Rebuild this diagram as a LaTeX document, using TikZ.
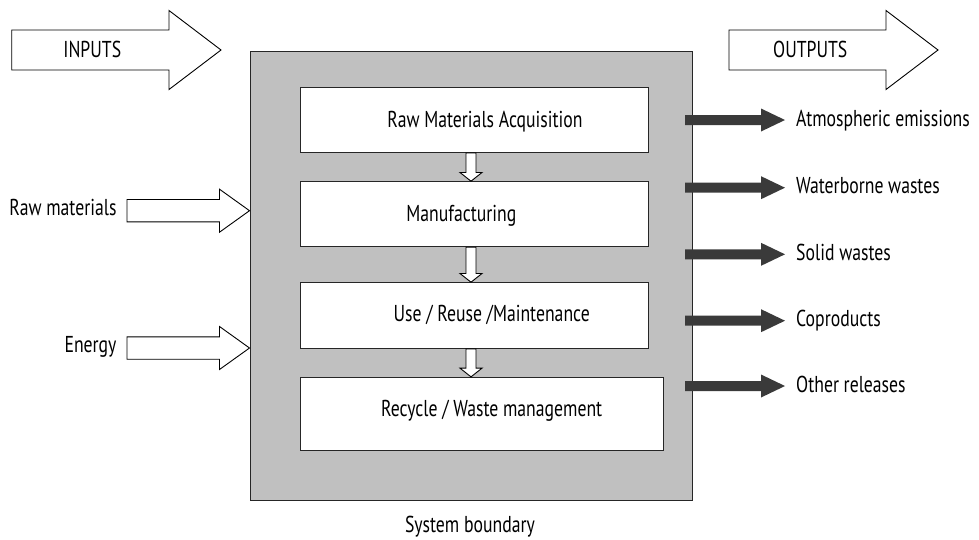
\documentclass[tikz,border=0pt]{standalone}
\usepackage{fontspec}
\setmainfont{PT Sans}[FakeStretch=0.77]
\usetikzlibrary{calc}
\definecolor{boundgray}{RGB}{192,192,192}
\definecolor{darkarrow}{RGB}{58,58,58}
% horizontal block arrow: start, tip, shaft half, head half, head length, style
\newcommand\blockH[6]{%
\path[#6] let \p1=(#1), \p2=(#2) in
 (\x1,{\y1+#3pt}) -- ({\x2-#5pt},{\y1+#3pt}) -- ({\x2-#5pt},{\y1+#4pt}) -- (\x2,\y1)
 -- ({\x2-#5pt},{\y1-#4pt}) -- ({\x2-#5pt},{\y1-#3pt}) -- (\x1,{\y1-#3pt}) -- cycle;}
% vertical (downward) block arrow: start, end, shaft half, head half, head length, style
\newcommand\blockV[6]{%
\path[#6] let \p1=(#1), \p2=(#2) in
 ({\x1-#3pt},\y1) -- ({\x1-#3pt},{\y2+#5pt}) -- ({\x1-#4pt},{\y2+#5pt}) -- (\x1,\y2)
 -- ({\x1+#4pt},{\y2+#5pt}) -- ({\x1+#3pt},{\y2+#5pt}) -- ({\x1+#3pt},\y1) -- cycle;}
\begin{document}
\begin{tikzpicture}[x=1pt,y=-1pt,
  lbl/.style={font=\fontsize{23}{26}\selectfont, inner sep=0pt},
  boxst/.style={draw=black!85, line width=1pt, fill=white, inner sep=0pt},
  hollow/.style={draw=black, line width=0.9pt, fill=white, line join=miter},
  dark/.style={fill=darkarrow, draw=none}]
\useasboundingbox (0,0) rectangle (979,539);

% system boundary
\node[draw=black!85, line width=1pt, fill=boundgray, minimum width=442pt,
      minimum height=449pt, inner sep=0pt] (sys) at (471,275.5) {};
\node[lbl, anchor=base] (sysl) at (470,532) {System boundary};

% stages
\node[boxst, minimum width=348pt, minimum height=64.6pt] (b1) at (474.7,120) {};
\node[boxst, minimum width=348pt, minimum height=65pt] (b2) at (474.7,214.2) {};
\node[boxst, minimum width=348pt, minimum height=65.6pt] (b3) at (474.7,315.5) {};
\node[boxst, minimum width=362.6pt, minimum height=72.7pt] (b4) at (482,413.7) {};
\node[lbl, anchor=base] (t1) at (485,127.3) {Raw Materials Acquisition};
\node[lbl, anchor=base] (t2) at (461.3,221.7) {Manufacturing};
\node[lbl, anchor=base] (t3) at (491.7,321.7) {Use / Reuse /Maintenance};
\node[lbl, anchor=base] (t4) at (491.7,416.7) {Recycle / Waste management};

% arrows between stages
\blockV{$(b1.south)+(-3.7,0)$}{b2.north}{5}{11}{8.7}{hollow}
\blockV{$(b2.south)+(-3.7,0)$}{b3.north}{5}{11}{8.7}{hollow}
\blockV{$(b3.south)+(-3.7,0)$}{b4.north}{5}{11}{8.7}{hollow}

% INPUTS / OUTPUTS
\coordinate (inS) at (11.7,50);
\coordinate (inT) at (221,50);
\blockH{inS}{inT}{20}{39.5}{52}{hollow}
\node[lbl, anchor=base] (inl) at (92.3,57.3) {INPUTS};
\coordinate (outS) at (729,50);
\coordinate (outT) at (938,50);
\blockH{outS}{outT}{20}{39.5}{52}{hollow}
\node[lbl, anchor=base] (outl) at (810.3,57.3) {OUTPUTS};

% inputs
\coordinate (rmS) at (127,210.7);
\blockH{rmS}{sys.west |- rmS}{11.2}{21.5}{30}{hollow}
\node[lbl, anchor=base east] (rml) at (116.7,215) {Raw materials};
\coordinate (enS) at (127,348);
\blockH{enS}{sys.west |- enS}{11.2}{21.5}{30}{hollow}
\node[lbl, anchor=base east] (enl) at (116.7,352.3) {Energy};

% outputs
\foreach \yy/\bl/\name/\txt in {120/126.7/o1/Atmospheric emissions,
  187.7/193.3/o2/Waterborne wastes, 254.3/260.7/o3/Solid wastes,
  320.7/326.7/o4/Coproducts, 386/392.7/o5/Other releases}{
  \coordinate (\name S) at (685,\yy);
  \coordinate (\name T) at (785,\yy);
  \blockH{\name S}{\name T}{5}{11.5}{24}{dark}
  \node[lbl, anchor=base west] (\name) at (796,\bl) {\txt};
}
\end{tikzpicture}
\end{document}
